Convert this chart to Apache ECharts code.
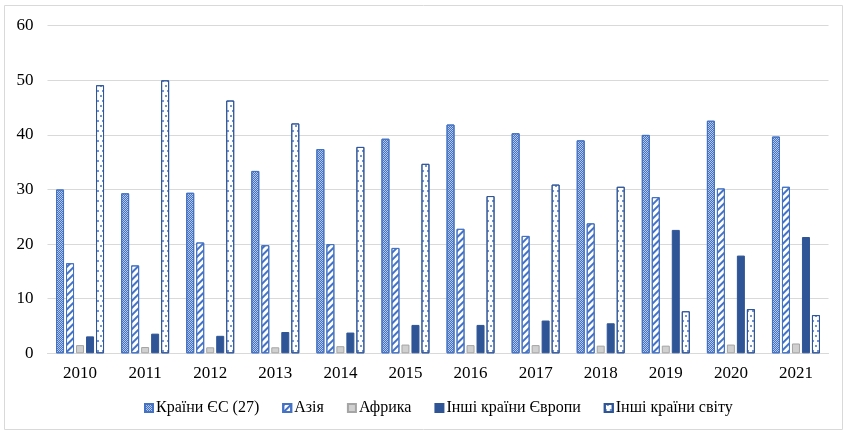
<!DOCTYPE html>
<html>
<head>
<meta charset="utf-8">
<script src="https://cdn.jsdelivr.net/npm/echarts@6/dist/echarts.min.js"></script>
<style>html,body{margin:0;padding:0;background:#fff}#c{width:847px;height:434px}</style>
</head>
<body>
<div id="c"></div>
<script>
const years = ['2010','2011','2012','2013','2014','2015','2016','2017','2018','2019','2020','2021'];
const seriesNames = ['Країни ЄС (27)','Азія','Африка','Інші країни Європи','Інші країни світу'];
const euValues = [30.0, 29.3, 29.4, 33.4, 37.4, 39.3, 41.9, 40.3, 39.0, 40.0, 42.6, 39.7];
const asiaValues = [16.5, 16.1, 20.3, 19.8, 20.0, 19.3, 22.8, 21.5, 23.8, 28.6, 30.2, 30.5];
const africaValues = [1.5, 1.15, 1.1, 1.1, 1.3, 1.6, 1.5, 1.5, 1.4, 1.4, 1.6, 1.8];
const otherEuropeValues = [3.1, 3.6, 3.2, 3.9, 3.8, 5.2, 5.2, 6.0, 5.5, 22.6, 17.9, 21.3];
const otherWorldValues = [49.1, 50.0, 46.3, 42.1, 37.8, 34.7, 28.8, 30.9, 30.5, 7.7, 8.1, 7.0];
const yTicks = {min: 0, max: 60, interval: 10};

const font = '"Liberation Serif", "Times New Roman", serif';
const chart = echarts.init(document.getElementById('c'), null, {renderer: 'canvas'});

const styles = [
  {color: '#B4C7E7', borderColor: '#4472C4', decal: {symbol: 'rect', symbolSize: 1, dashArrayX: [[1,1],[0,1,1,0]], dashArrayY: [1,0], color: '#4472C4'}},
  {color: '#FFFFFF', borderColor: '#4472C4', decal: {symbol: 'rect', symbolSize: 1, dashArrayX: [1,0], dashArrayY: [1.2,3], rotation: -Math.PI/4, color: '#4472C4'}},
  {color: '#D0D0D0', borderColor: '#A5A5A5'},
  {color: '#2F5597', borderColor: '#2F5597'},
  {color: '#FFFFFF', borderColor: '#2F5597', decal: {symbol: 'circle', symbolSize: 1, dashArrayX: [[1.6,2.4],[0,2,1.6,0.4]], dashArrayY: [1.6,2.4], color: '#4472C4'}}
];
const dataArrays = [euValues, asiaValues, africaValues, otherEuropeValues, otherWorldValues];

chart.setOption({
  animation: false,
  aria: {enabled: false, decal: {show: true}},
  graphic: [{type: 'rect', shape: {x: 4.5, y: 5.5, width: 838, height: 424}, style: {fill: 'none', stroke: '#D9D9D9', lineWidth: 1}, silent: true}],
  grid: {left: 47.5, right: 18.5, top: 25.7, bottom: 80.7, containLabel: false},
  legend: {
    bottom: 13, left: 139, itemWidth: 8, itemHeight: 8, itemGap: 23,
    icon: 'rect',
    textStyle: {fontFamily: font, fontSize: 16, color: '#000', padding: [0, 0, 0, -2]},
    data: seriesNames
  },
  xAxis: {
    type: 'category', data: years,
    axisLine: {lineStyle: {color: '#D9D9D9', width: 1}},
    axisTick: {show: false},
    axisLabel: {fontFamily: font, fontSize: 17, color: '#000', margin: 12}
  },
  yAxis: {
    type: 'value', min: yTicks.min, max: yTicks.max, interval: yTicks.interval,
    axisLine: {show: false}, axisTick: {show: false},
    splitLine: {lineStyle: {color: '#D9D9D9', width: 1}},
    axisLabel: {fontFamily: font, fontSize: 17, color: '#000', margin: 14}
  },
  series: seriesNames.map((n, i) => ({
    name: n, type: 'bar', data: dataArrays[i],
    barWidth: 8, barGap: '25%', barCategoryGap: '26%',
    itemStyle: Object.assign({borderWidth: 1}, styles[i])
  }))
});
</script>
</body>
</html>
